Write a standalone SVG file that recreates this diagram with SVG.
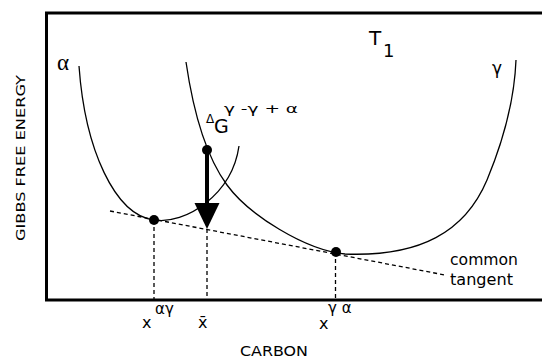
<svg xmlns="http://www.w3.org/2000/svg" width="542" height="358" viewBox="0 0 542 358">
<style>
.axis{fill:none;stroke:#000;stroke-width:3}
.curve{fill:none;stroke:#000;stroke-width:1.3}
.dash{fill:none;stroke:#000;stroke-width:1.3;stroke-dasharray:4,3}
.t{font-family:"DejaVu Sans",sans-serif;fill:#000}
.s{font-family:"Liberation Serif",serif;fill:#000}
</style>
<rect width="542" height="358" fill="#fff"/>
<g id="axes">
<path class="axis" d="M542,13 H46.5 V300 H542"/>
</g>
<g id="curve-alpha">
<path class="curve" d="M79,66 C85,150 115,215 154,220 C185,225 232,195 239,146"/>
<text class="s" x="57" y="70" font-size="23">α</text>
</g>
<g id="curve-gamma">
<path class="curve" d="M186,62 C193,110 205,155 227,185 C249,215 305,250 345,254 C420,257 465,232 487,180 C497,156 514,110 516,60"/>
<text class="t" x="492" y="74" font-size="17">γ</text>
</g>
<g id="title">
<text class="t" x="369" y="45" font-size="20">T</text>
<text class="t" x="383" y="57" font-size="18">1</text>
</g>
<g id="connectors">
<path class="dash" d="M110,211 L445,275"/>
<path class="dash" d="M154,220 V300"/>
<path class="dash" d="M207,229 V300"/>
<path class="dash" d="M335.5,252 V300"/>
<path d="M207,150 V205" stroke="#000" stroke-width="4"/>
<polygon points="194.5,203 219.5,203 207,229" fill="#000"/>
</g>
<g id="points">
<circle cx="207" cy="150" r="5"/>
<circle cx="154" cy="220" r="5"/>
<circle cx="336" cy="252" r="5"/>
</g>
<g id="delta-label">
<text class="t" x="206" y="123" font-size="12">Δ</text>
<text class="t" x="214" y="133" font-size="19">G</text>
<text class="t" x="224" y="113" font-size="13" textLength="74" lengthAdjust="spacingAndGlyphs">γ -γ + α</text>
</g>
<g id="tangent-label">
<text class="t" x="450" y="265" font-size="15" textLength="68" lengthAdjust="spacingAndGlyphs">common</text>
<text class="t" x="450" y="285" font-size="15" textLength="63" lengthAdjust="spacingAndGlyphs">tangent</text>
</g>
<g id="x-labels">
<text class="t" x="142" y="328" font-size="16">x</text>
<text class="t" x="155" y="314" font-size="15">αγ</text>
<text class="t" x="198" y="328" font-size="16">x̄</text>
<text class="t" x="319" y="329" font-size="16">x</text>
<text class="t" x="328" y="313" font-size="15">γ α</text>
</g>
<g id="axis-labels">
<text class="t" x="274" y="356" font-size="14" text-anchor="middle" textLength="68" lengthAdjust="spacingAndGlyphs">CARBON</text>
<text class="t" transform="translate(25,158) rotate(-90)" x="0" y="0" font-size="13" text-anchor="middle" textLength="166" lengthAdjust="spacingAndGlyphs">GIBBS FREE ENERGY</text>
</g>
</svg>
